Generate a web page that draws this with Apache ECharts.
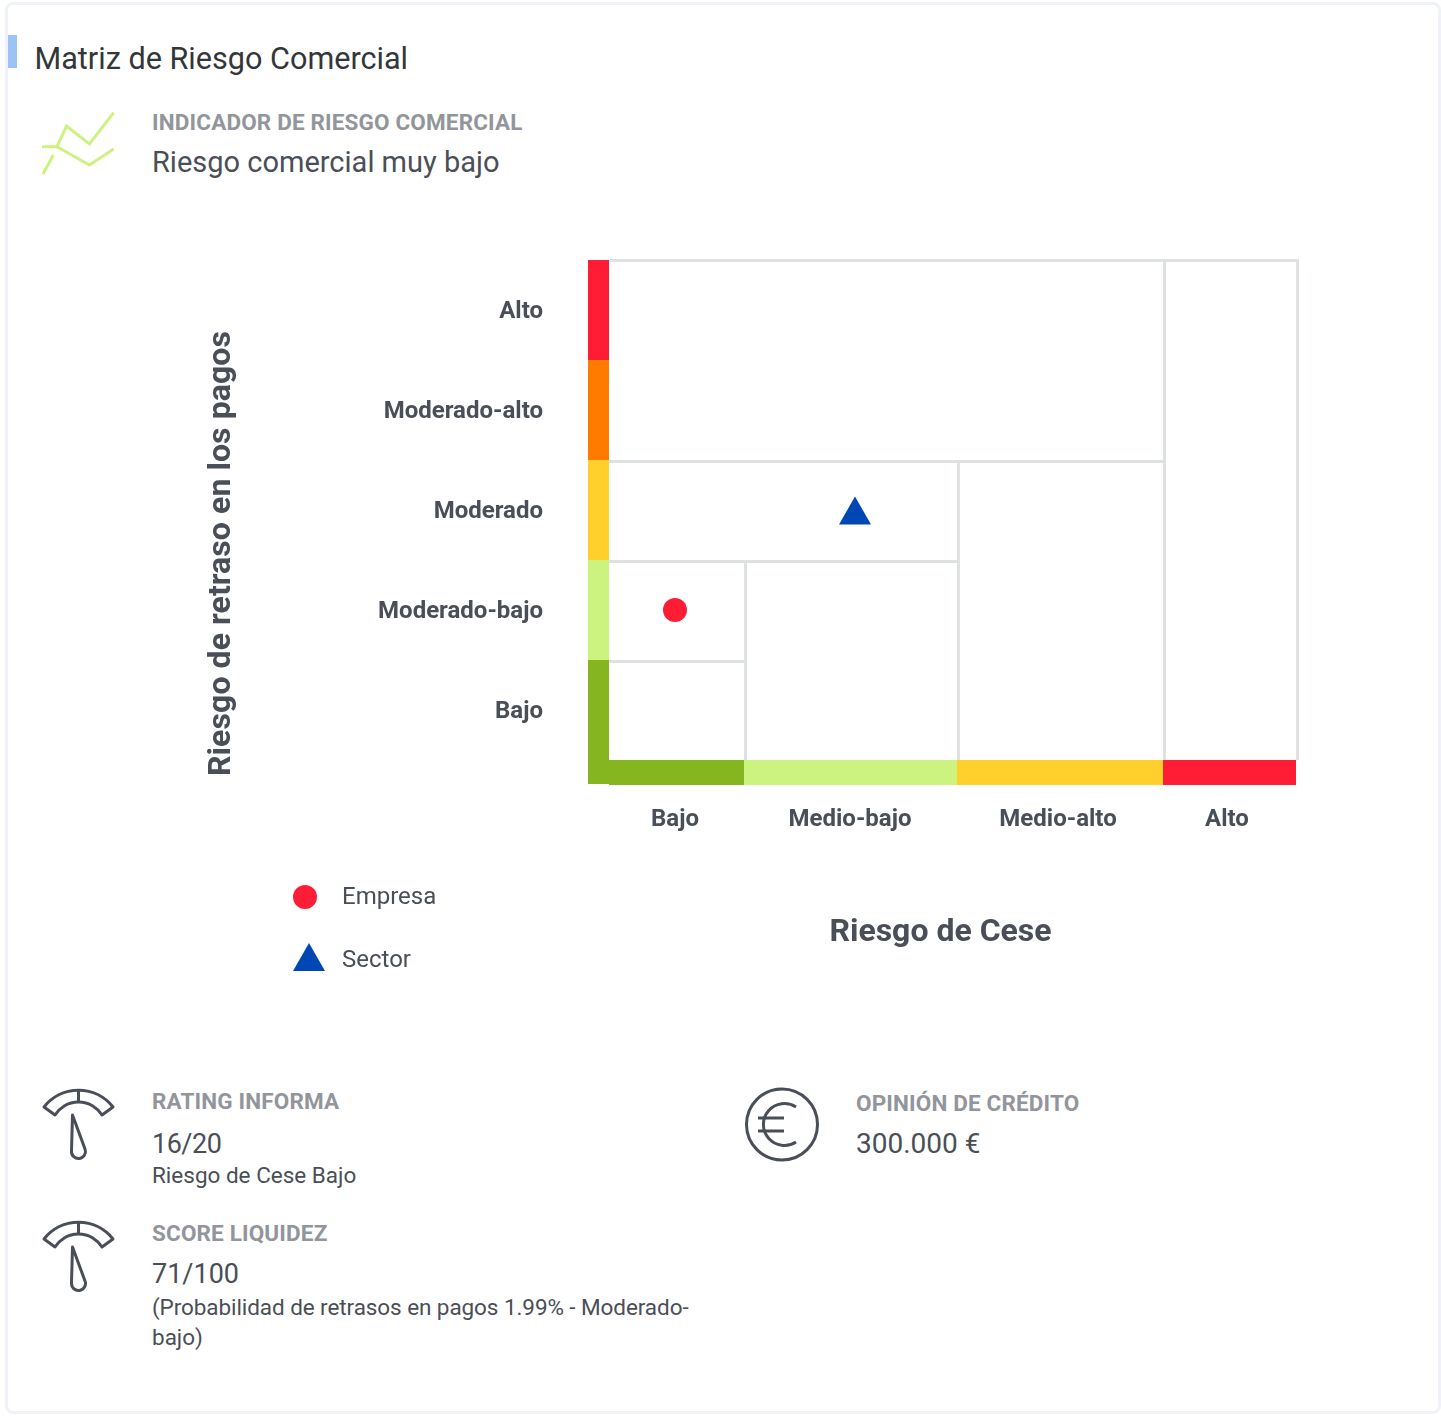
<!DOCTYPE html>
<html lang="es">
<head>
<meta charset="utf-8">
<title>Matriz de Riesgo Comercial</title>
<script src="https://cdn.jsdelivr.net/npm/echarts@6/dist/echarts.min.js"></script>
<style>
html,body{margin:0;padding:0;background:#fff;font-family:Roboto,sans-serif;}
#page{position:relative;width:1441px;height:1416px;overflow:hidden;}
#card{position:absolute;left:5px;top:2px;width:1430px;height:1406px;border:3px solid #eff2f8;border-radius:8px;}
#tab{position:absolute;left:8px;top:35px;width:9px;height:33px;background:#9cc3f5;}
#chart{position:absolute;left:0;top:0;width:1441px;height:1416px;}
.t{position:absolute;white-space:nowrap;line-height:1;}
.h{color:#92959b;font-weight:700;font-size:22.5px;letter-spacing:.15px;}
.v{color:#4a4f57;font-size:29px;}
.s{color:#4a4f57;font-size:22.5px;}
svg{position:absolute;left:0;top:0;}
</style>
</head>
<body>
<div id="page">
<div id="card"></div>
<div id="tab"></div>
<div class="t" style="left:34.500px;top:44px;font-size:30.600px;color:#33363b;">Matriz de Riesgo Comercial</div>
<div class="t h" style="left:152px;top:111px;">INDICADOR DE RIESGO COMERCIAL</div>
<div class="t v" style="left:152px;top:148px;">Riesgo comercial muy bajo</div>
<div class="t h" style="left:152px;top:1090px;">RATING INFORMA</div>
<div class="t v" style="left:152px;top:1131px;font-size:27px;letter-spacing:-.5px;">16/20</div>
<div class="t s" style="left:152px;top:1164px;">Riesgo de Cese Bajo</div>
<div class="t h" style="left:152px;top:1222px;">SCORE LIQUIDEZ</div>
<div class="t v" style="left:152px;top:1261px;font-size:27px;">71/100</div>
<div class="t s" style="left:152px;top:1296px;letter-spacing:-.08px;">(Probabilidad de retrasos en pagos 1.99% - Moderado-</div>
<div class="t s" style="left:152px;top:1326px;">bajo)</div>
<div class="t h" style="left:856px;top:1092px;">OPINIÓN DE CRÉDITO</div>
<div class="t v" style="left:856px;top:1130px;font-size:28px;">300.000 €</div>
<svg width="1441" height="1416" fill="none">
  <g stroke="#ccf380" stroke-width="3">
    <path d="M42 146.700H57L66.500 126L89.500 144L113.600 112.700"/>
    <path d="M57 146.700L89.500 165L113.600 149"/>
    <path d="M53.400 155L43 174"/>
  </g>
  <g stroke="#4a4f57" stroke-width="3" stroke-linejoin="round">
    <path d="M44 1107A44 44 0 0 1 113 1107L102 1115A27.700 27.700 0 0 0 55 1115Z"/>
    <path d="M78.500 1089V1102"/>
    <path d="M72.500 1115L85 1149A7 7 0 1 1 71.500 1151Z"/>
  </g>
  <g stroke="#4a4f57" stroke-width="3" stroke-linejoin="round" transform="translate(0,132)">
    <path d="M44 1107A44 44 0 0 1 113 1107L102 1115A27.700 27.700 0 0 0 55 1115Z"/>
    <path d="M78.500 1089V1102"/>
    <path d="M72.500 1115L85 1149A7 7 0 1 1 71.500 1151Z"/>
  </g>
  <g stroke="#4a4f57" stroke-width="3">
    <circle cx="782" cy="1124.500" r="35.500"/>
    <path d="M796 1107A21 21 0 1 0 796 1142"/>
    <path d="M758 1118H784M758 1131H784"/>
  </g>
</svg>
<div id="chart"></div>
</div>
<script>
// Categories
const ceseCategories = ['Bajo', 'Medio-bajo', 'Medio-alto', 'Alto'];
const retrasoCategories = ['Bajo', 'Moderado-bajo', 'Moderado', 'Moderado-alto', 'Alto'];
// Band limits on the Cese scale (unequal widths, as in the matrix)
const ceseEdges = [0, 135, 348, 554, 687];
const ceseLabelValues = [66, 241, 449, 618];
const retrasoLabelValues = [0.48, 1.48, 2.48, 3.48, 4.48];
// Band colours, low to high
const ceseColors = ['#85b61f', '#ccf380', '#ffcf2b', '#ff1d36'];
const retrasoColors = ['#85b61f', '#ccf380', '#ffcf2b', '#ff7b00', '#ff1d36'];
// Staircase of the matrix: [retraso level, last cese band] and [cese band, top retraso level]
const horizontalRules = [[1, 1], [2, 2], [3, 3], [5, 4]];
const verticalRules = [[1, 2], [2, 3], [3, 5], [4, 5]];
// Positions of the two marks
const empresa = [66, 1.5];
const sector = [246, 2.495];

const RULE = '#dde1e0', AXIS_TEXT = '#4a4f57';
const stripX = [-21, 0], stripY = [-0.25, 0];

const stripData = [];
retrasoColors.forEach((c, i) => stripData.push({
  value: [stripX[0], stripX[1], i === 0 ? -0.24 : i, i + 1], itemStyle: { color: c } }));
ceseColors.forEach((c, i) => stripData.push({
  value: [ceseEdges[i], ceseEdges[i + 1], stripY[0], stripY[1]], itemStyle: { color: c } }));

const ruleData = [];
horizontalRules.forEach(r => ruleData.push([0, ceseEdges[r[1]], r[0], r[0], 0]));
verticalRules.forEach(r => ruleData.push([ceseEdges[r[0]], ceseEdges[r[0]], 0, r[1], 1]));

const chart = echarts.init(document.getElementById('chart'), null, { renderer: 'canvas' });
chart.setOption({
  animation: false,
  backgroundColor: 'transparent',
  textStyle: { fontFamily: 'Roboto' },
  grid: { left: 588, top: 260, width: 709, height: 525, containLabel: false },
  legend: [
    { data: ['Empresa'], left: 288, top: 880, itemWidth: 24, itemHeight: 24,
      formatter: '{a|{name}}',
      textStyle: { rich: { a: { fontSize: 24, fontFamily: 'Roboto', color: AXIS_TEXT, padding: [2, 0, 0, 20] } } } },
    { data: ['Sector'], left: 288, top: 938, itemWidth: 32, itemHeight: 28,
      formatter: '{a|{name}}',
      textStyle: { rich: { a: { fontSize: 24, fontFamily: 'Roboto', color: AXIS_TEXT, padding: [8, 0, 0, 12] } } } }
  ],
  xAxis: {
    type: 'value', min: -21, max: 688,
    splitLine: { show: false }, axisLine: { show: false },
    axisTick: { show: false },
    axisLabel: {
      customValues: ceseLabelValues, margin: 23, fontSize: 24, fontWeight: 700, color: AXIS_TEXT,
      formatter: v => ceseCategories[ceseLabelValues.indexOf(v)]
    },
    name: 'Riesgo de Cese', nameLocation: 'middle', nameGap: 132,
    nameTextStyle: { fontSize: 32, fontWeight: 700, color: AXIS_TEXT, padding: [0, 4, 0, 0] }
  },
  yAxis: {
    type: 'value', min: -0.25, max: 5,
    splitLine: { show: false }, axisLine: { show: false },
    axisTick: { show: false },
    axisLabel: {
      customValues: retrasoLabelValues, margin: 45, fontSize: 24, fontWeight: 700, color: AXIS_TEXT,
      formatter: v => retrasoCategories[retrasoLabelValues.indexOf(v)]
    },
    name: 'Riesgo de retraso en los pagos', nameLocation: 'middle', nameGap: 350,
    nameTextStyle: { fontSize: 32.2, fontWeight: 700, color: AXIS_TEXT, padding: [0, 62, 0, 0] }
  },
  series: [
    {
      type: 'custom', silent: true, z: 2,
      data: ruleData,
      renderItem(params, api) {
        const a = api.coord([api.value(0), api.value(2)]);
        const b = api.coord([api.value(1), api.value(3)]);
        if (api.value(4) === 0) {
          const yy = api.value(2) === 5 ? a[1] - 1 : a[1];
          return { type: 'rect', shape: { x: a[0], y: yy, width: b[0] - a[0] + 3, height: 3 }, style: { fill: RULE } };
        }
        return { type: 'rect', shape: { x: a[0], y: b[1], width: 3, height: a[1] - b[1] }, style: { fill: RULE } };
      }
    },
    {
      type: 'custom', silent: true, z: 3,
      data: stripData,
      renderItem(params, api) {
        const a = api.coord([api.value(0), api.value(2)]);
        const b = api.coord([api.value(1), api.value(3)]);
        return { type: 'rect',
          shape: { x: a[0], y: b[1], width: b[0] - a[0], height: a[1] - b[1] },
          style: { fill: api.visual('color') } };
      }
    },
    {
      name: 'Empresa', type: 'scatter', z: 5, symbol: 'circle', symbolSize: 24,
      itemStyle: { color: '#ff1d36', opacity: 1 }, data: [empresa]
    },
    {
      name: 'Sector', type: 'scatter', z: 5, symbol: 'triangle', symbolSize: [32, 28],
      itemStyle: { color: '#0047b6', opacity: 1 }, data: [sector]
    }
  ]
});
</script>
</body>
</html>
